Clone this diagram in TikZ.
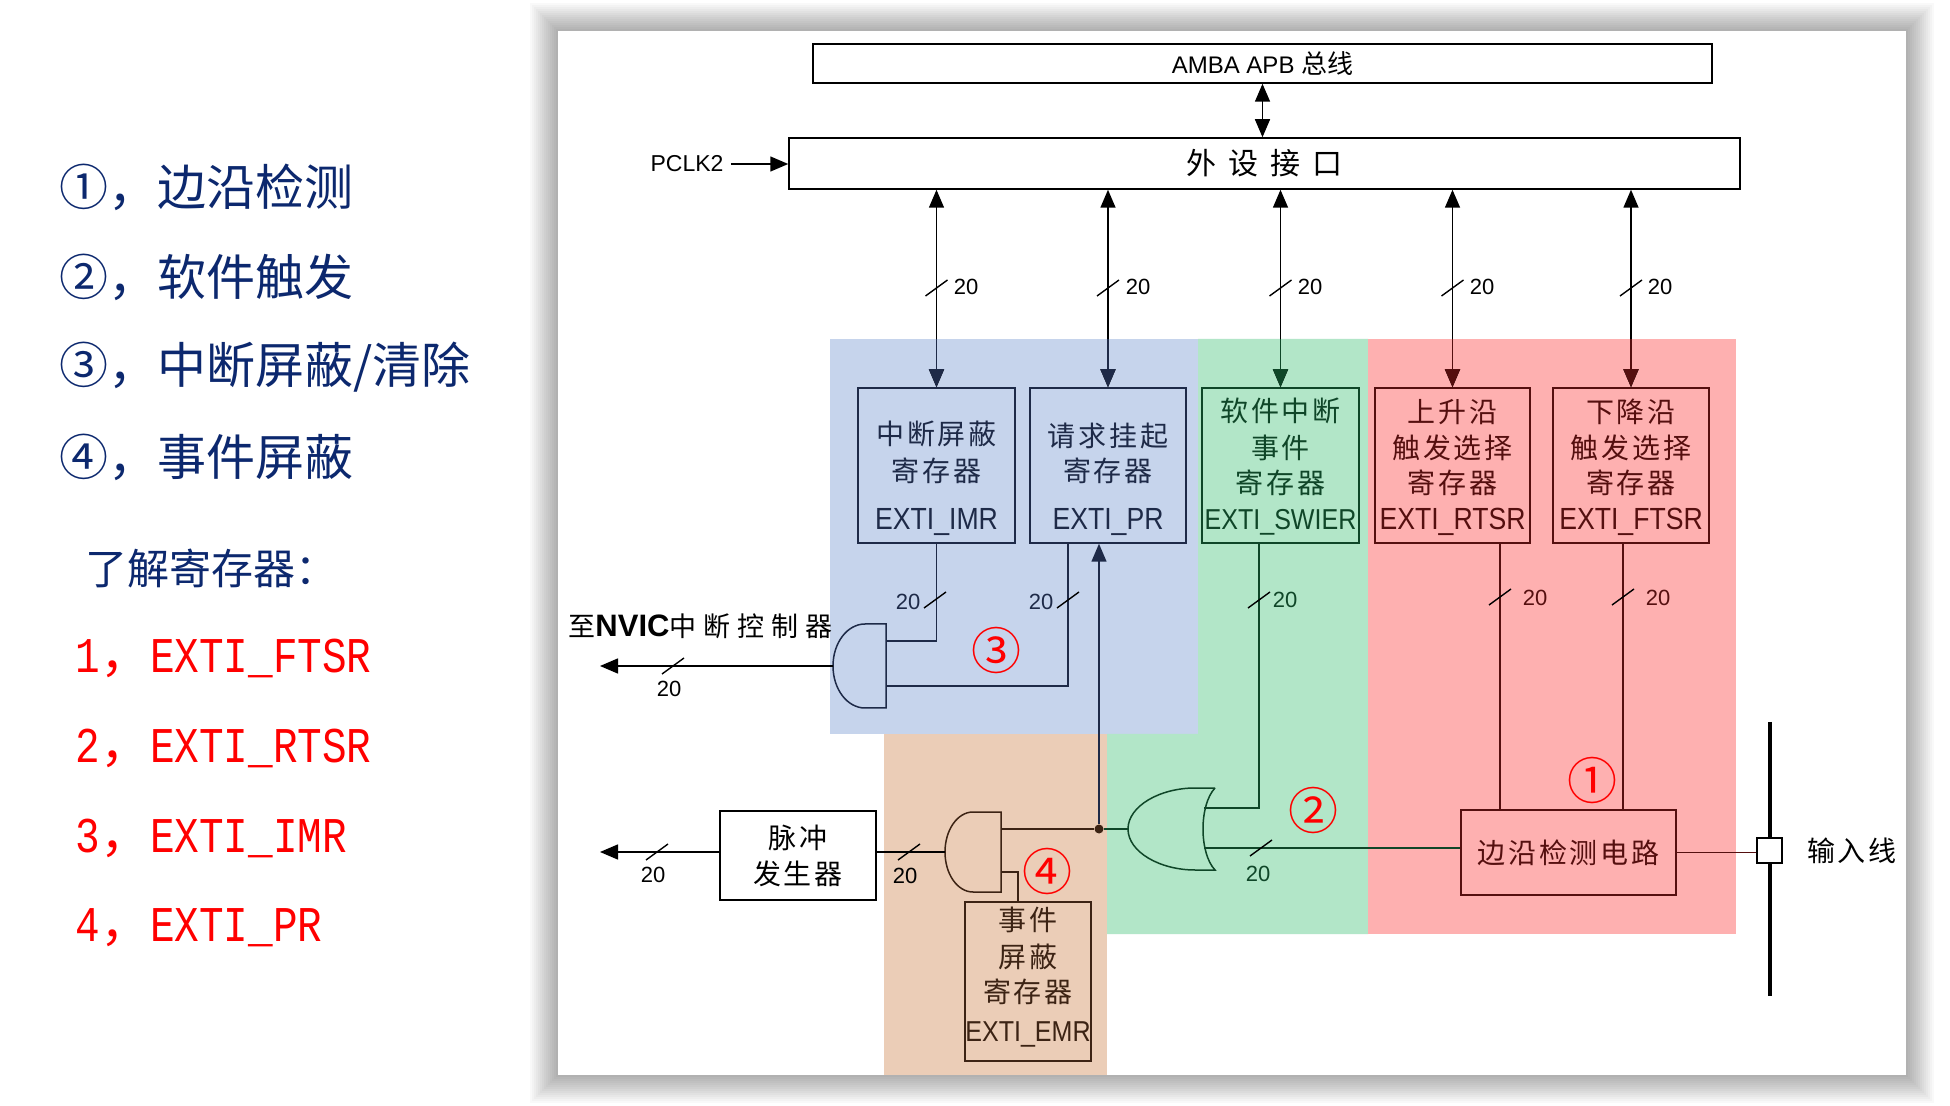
\documentclass[tikz,border=0pt]{standalone}
\usepackage{fontspec}
\usetikzlibrary{arrows.meta}
\newfontfamily\cjk{Noto Sans CJK SC}
\newfontfamily\dcjk{Noto Sans CJK SC}[LetterSpace=10]
\newfontfamily\ncjk{Noto Sans CJK SC}[LetterSpace=26]
\newfontfamily\dlat{Liberation Sans}[FakeStretch=0.87]
\newfontfamily\nlat{Liberation Sans}
\newfontfamily\monof{Liberation Mono}[FakeStretch=0.82]
\newcommand\fsz[1]{\fontsize{#1}{#1}\selectfont}
\definecolor{regblue}{RGB}{198,212,236}
\definecolor{reggreen}{RGB}{178,230,200}
\definecolor{regred}{RGB}{254,176,176}
\definecolor{regorange}{RGB}{235,205,183}
\definecolor{lnblue}{RGB}{30,42,72}
\definecolor{lngreen}{RGB}{15,70,40}
\definecolor{lnred}{RGB}{85,15,15}
\definecolor{lnorange}{RGB}{60,35,20}
\definecolor{navy}{RGB}{12,40,110}
\newcommand\slashmark[2]{\draw[line width=0.7pt] ({#1-11},{#2+8}) -- ({#1+11},{#2-8});}
\tikzset{
  ln/.style={line width=0.75pt},
  box/.style={draw, line width=0.75pt, inner sep=0pt},
  dtxt/.style={inner sep=0pt, font=\dcjk\fsz{14}},
  etxt/.style={inner sep=0pt, font=\dlat\fsz{15.3}},
  lab/.style={inner sep=0pt, font=\nlat\fsz{11}},
  circnum/.style={inner sep=0pt, text=red, font=\cjk\fsz{25}},
  lefttxt/.style={anchor=west, inner sep=0pt, text=navy, font=\cjk\fsz{24.5}},
  redtxt/.style={anchor=west, inner sep=0pt, text=red, font=\monof\fsz{25}},
  arw/.style={-{Triangle[length=9pt,width=7.5pt]}},
  darw/.style={{Triangle[length=9pt,width=7.5pt]}-{Triangle[length=9pt,width=7.5pt]}}
}
\begin{document}
\begin{tikzpicture}[x=0.5pt,y=-0.5pt]
\useasboundingbox (0,0) rectangle (1950,1106);
\fill[white] (0,0) rectangle (1950,1106);
% panel shadow
\foreach \i in {1,...,14}{
  \fill[black,opacity=0.022] ({558-2*\i},{31-2*\i}) rectangle ({1906+2*\i},{1075+2*\i});
}
\fill[white] (558,31) rectangle (1906,1075);
% colour regions
\fill[regblue] (830,339) rectangle (1198,734);
\fill[reggreen] (1198,339) -- (1368,339) -- (1368,934) -- (1107,934) -- (1107,734) -- (1198,734) -- cycle;
\fill[regred] (1368,339) rectangle (1736,934);
\fill[regorange] (884,734) rectangle (1107,1075);

% left texts
\node[lefttxt] (t1) at (59,187) {①，边沿检测};
\node[lefttxt] (t2) at (59,277) {②，软件触发};
\node[lefttxt] (t3) at (59,367) {③，中断屏蔽/清除};
\node[lefttxt] (t4) at (59,457) {④，事件屏蔽};
\node[lefttxt, font=\cjk\fsz{21}] (t5) at (85,568) {了解寄存器：};
\node[redtxt] (r1) at (75,658) {1{\cjk ，}EXTI\_FTSR};
\node[redtxt] (r2) at (75,748) {2{\cjk ，}EXTI\_RTSR};
\node[redtxt] (r3) at (75,838) {3{\cjk ，}EXTI\_IMR};
\node[redtxt] (r4) at (75,928) {4{\cjk ，}EXTI\_PR};

% bus boxes
\node[box, minimum width=449.5pt, minimum height=19.5pt] (amba) at (1262.5,63.5) {\nlat\fsz{12}AMBA APB \cjk\fsz{13}总线};
\node[box, minimum width=475.5pt, minimum height=25.5pt] (per) at (1264.5,163.5) {\cjk\fsz{15}外\hspace{6pt}设\hspace{6pt}接\hspace{6pt}口};
\draw[ln, darw] (amba.south) -- (amba.south |- per.north);
\node[inner sep=0pt, inner xsep=3.5pt, font=\nlat\fsz{11.5}] (pclk) at (687,164) {PCLK2};
\draw[ln, arw] (pclk.east) -- (pclk.east -| per.west);

% register boxes
\node[box, draw=lnblue, minimum width=78.5pt, minimum height=77.5pt] (imr) at (936.5,465.5) {};
\node[box, draw=lnblue, minimum width=78pt, minimum height=77.5pt] (pr) at (1108,465.5) {};
\node[box, draw=lngreen, minimum width=78.5pt, minimum height=77.5pt] (swier) at (1280.5,465.5) {};
\node[box, draw=lnred, minimum width=77.5pt, minimum height=77.5pt] (rtsr) at (1452.5,465.5) {};
\node[box, draw=lnred, minimum width=78pt, minimum height=77.5pt] (ftsr) at (1631,465.5) {};
\coordinate (rtop) at (830,339);

% arrows from peripheral interface
\draw[ln, darw] (per.south -| imr.north) -- (imr.north);
\draw[ln, lnblue, arw] (imr.north |- rtop) -- (imr.north);
\draw[ln, darw] (per.south -| pr.north) -- (pr.north);
\draw[ln, lnblue, arw] (pr.north |- rtop) -- (pr.north);
\draw[ln, darw] (per.south -| swier.north) -- (swier.north);
\draw[ln, lngreen, arw] (swier.north |- rtop) -- (swier.north);
\draw[ln, darw] (per.south -| rtsr.north) -- (rtsr.north);
\draw[ln, lnred, arw] (rtsr.north |- rtop) -- (rtsr.north);
\draw[ln, darw] (per.south -| ftsr.north) -- (ftsr.north);
\draw[ln, lnred, arw] (ftsr.north |- rtop) -- (ftsr.north);
\slashmark{936.5}{288} \node[lab] (b1) at (966,287) {20};
\slashmark{1108}{288} \node[lab] (b2) at (1138,287) {20};
\slashmark{1280.5}{288} \node[lab] (b3) at (1310,287) {20};
\slashmark{1452.5}{288} \node[lab] (b4) at (1482,287) {20};
\slashmark{1631}{288} \node[lab] (b5) at (1660,287) {20};

% register texts
\node[dtxt, text=lnblue] (imr1) at (936.5,434) {中断屏蔽};
\node[dtxt, text=lnblue] (imr2) at (936.5,471) {寄存器};
\node[etxt, text=lnblue] (imr3) at (936.5,522) {EXTI\_IMR};
\node[dtxt, text=lnblue] (pr1) at (1108,436) {请求挂起};
\node[dtxt, text=lnblue] (pr2) at (1108,471) {寄存器};
\node[etxt, text=lnblue] (pr3) at (1108,522) {EXTI\_PR};
\node[dtxt, text=lngreen] (sw1) at (1280.5,411) {软件中断};
\node[dtxt, text=lngreen] (sw2) at (1280.5,448) {事件};
\node[dtxt, text=lngreen] (sw3) at (1280.5,483) {寄存器};
\node[etxt, text=lngreen, font=\dlat\fsz{14.4}] (sw4) at (1280.5,522) {EXTI\_SWIER};
\node[dtxt, text=lnred] (rt1) at (1452.5,412) {上升沿};
\node[dtxt, text=lnred] (rt2) at (1452.5,448) {触发选择};
\node[dtxt, text=lnred] (rt3) at (1452.5,483) {寄存器};
\node[etxt, text=lnred] (rt4) at (1452.5,522) {EXTI\_RTSR};
\node[dtxt, text=lnred] (ft1) at (1631,412) {下降沿};
\node[dtxt, text=lnred] (ft2) at (1631,448) {触发选择};
\node[dtxt, text=lnred] (ft3) at (1631,483) {寄存器};
\node[etxt, text=lnred] (ft4) at (1631,522) {EXTI\_FTSR};

% gate 1 (interrupt AND)
\draw[ln, lnblue] (886,624) -- (865,624) .. controls (847.3,624) and (833,642.8) .. (833,666) .. controls (833,689.2) and (847.3,708) .. (865,708) -- (886,708) -- cycle;
\coordinate (g1a) at (886,641);
\coordinate (g1b) at (886,686);
\coordinate (g1o) at (833,666);
\coordinate (nvicend) at (600,666);
\draw[ln, lnblue] (g1a) -| (imr.south);
\draw[ln, lnblue] (g1b) -| ([xshift=-20pt]pr.south);
\draw[ln, arw] (g1o) -- (nvicend);
\slashmark{673}{666} \node[lab] (n20) at (669,689) {20};
\node[inner sep=0pt, anchor=east] (nvic) at (833,626) {{\cjk\fsz{13.5}至}{\nlat\bfseries\fsz{15.5}NVIC}{\ncjk\fsz{13.5}中断控制器}};
\slashmark{935}{600} \node[lab, text=lnblue] (i20) at (908,602) {20};
\slashmark{1068}{600} \node[lab, text=lnblue] (p20) at (1041,602) {20};
\node[circnum] (c3) at (996,651) {③};

% pulse generator and event AND
\node[box, minimum width=78pt, minimum height=44.5pt, align=center, font=\dcjk\fontsize{14}{18}\selectfont] (pulse) at (798,855.5) {脉冲\\发生器};
\draw[ln, lnorange] (1001,812) -- (973,812) .. controls (957.5,812) and (945,829.9) .. (945,852) .. controls (945,874.1) and (957.5,892) .. (973,892) -- (1001,892) -- cycle;
\coordinate (g2a) at (1001,829);
\coordinate (g2b) at (1001,872);
\coordinate (g2o) at (945,852);
\coordinate (pulseend) at (600,852);
\draw[ln] (g2o) -- (g2o -| pulse.east);
\draw[ln, arw] (g2o -| pulse.west) -- (pulseend);
\slashmark{657}{852} \node[lab] (pu20) at (653,875) {20};
\slashmark{909}{852} \node[lab] (g220) at (905,876) {20};
\node[box, draw=lnorange, minimum width=63pt, minimum height=79.5pt] (emr) at (1028,981.5) {};
\node[dtxt, text=lnorange] (em1) at (1028,920) {事件};
\node[dtxt, text=lnorange] (em2) at (1028,957) {屏蔽};
\node[dtxt, text=lnorange] (em3) at (1028,992) {寄存器};
\node[etxt, text=lnorange, font=\dlat\fsz{14.4}] (em4) at (1028,1034) {EXTI\_EMR};
\draw[ln, lnorange] (g2b) -| ([xshift=-5pt]emr.north);
\node[circle, fill=lnorange, inner sep=0pt, minimum size=4.5pt] (dot) at (1099,829) {};
\draw[ln, lnorange] (g2a) -- (dot);
\draw[ln, lnblue, arw] (dot) -- ([xshift=-4.5pt]pr.south);
\node[circnum] (c4) at (1047,871) {④};

% OR gate (software trigger)
\draw[ln, lngreen] (1215,788) -- (1195,788) .. controls (1160,788) and (1128,806) .. (1128,829) .. controls (1128,852) and (1160,870) .. (1195,870) -- (1215,870) .. controls (1199,853) and (1199,805) .. (1215,788);
\coordinate (oro) at (1128,829);
\coordinate (ora) at (1204,808);
\coordinate (orb) at (1204,848);
\draw[ln, lngreen] (dot) -- (oro);
\draw[ln, lngreen] (ora) -| ([xshift=-10.75pt]swier.south);
\slashmark{1259}{600} \node[lab, text=lngreen] (s20) at (1285,600) {20};
\node[circnum] (c2) at (1313,810) {②};

% edge detection
\node[box, draw=lnred, minimum width=107.5pt, minimum height=42.5pt, font=\dcjk\fsz{14}, text=lnred] (edge) at (1568.5,852.5) {边沿检测电路};
\draw[ln, lngreen] (orb) -- (orb -| edge.west);
\slashmark{1261}{848} \node[lab, text=lngreen] (o20) at (1258,874) {20};
\draw[ln, lnred] ([xshift=23.75pt]rtsr.south) -- ([xshift=23.75pt]rtsr.south |- edge.north);
\draw[ln, lnred] ([xshift=-4pt]ftsr.south) -- ([xshift=-4pt]ftsr.south |- edge.north);
\slashmark{1500}{597} \node[lab, text=lnred] (rt20) at (1535,598) {20};
\slashmark{1623}{597} \node[lab, text=lnred] (ft20) at (1658,598) {20};
\node[circnum] (c1) at (1592,780) {①};

% input line
\coordinate (intop) at (1770,722);
\coordinate (inbot) at (1770,996);
\draw[line width=2.2pt] (intop) -- (inbot);
\node[box, fill=white, minimum size=12.5pt] (insq) at (1769.5,850.5) {};
\draw[ln, lnred] (edge.east) -- (edge.east -| insq.west);
\node[dtxt] (inlab) at (1852,851) {输入线};
\end{tikzpicture}
\end{document}
